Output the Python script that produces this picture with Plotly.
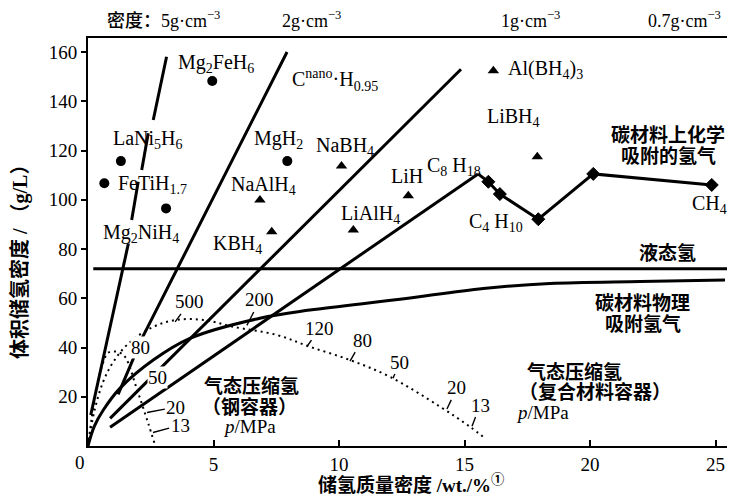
import plotly.graph_objects as go

# ---------------- data (wt.% , g/L) ----------------
# constant-density lines
rho5_x = [0.11, 1.61, None, 1.74, 2.0, None, 2.14, 2.4, None, 2.6, 3.13]
rho5_y = [12.6, 82.3, None, 91.8, 107.3, None, 112.1, 127.0, None, 132.4, 158.1]
rho2_x = [1.2, 2.14, 7.93]
rho2_y = [21.0, 43.5, 160.0]
rho1_x = [0.88, 14.86]
rho1_y = [11.2, 153.0]
rho07_x = [0.88, 15.54]
rho07_y = [7.6, 110.5]

# liquid hydrogen
liq_x = [0.21, 25.74]
liq_y = [72.0, 72.0]

# physisorption on carbon
phys_x = [0, 0.25, 0.61, 1.27, 2.6, 4.06, 6.85, 8.84, 12.43, 15.75, 18.4, 22.0, 25.38]
phys_y = [0, 8.0, 14.6, 23.4, 34.9, 43.7, 51.9, 55.2, 59.6, 64.0, 66.0, 66.8, 67.4]

# chemisorption on carbon (hydrocarbons)
chem_x = [15.54, 15.95, 16.41, 17.94, 20.13, 24.85]
chem_y = [110.5, 107.3, 102.3, 92.1, 110.5, 106.0]
chem_msize = [0, 10, 10, 10, 10, 10]

# compressed gas, steel vessel
steel_x = [0, 0.28, 0.55, 0.81, 1.14, 1.41, 1.61, 1.87, 2.14, 2.4, 2.67]
steel_y = [0, 20.0, 32.2, 37.9, 38.3, 37.0, 33.6, 25.5, 17.3, 9.2, 0.4]
# compressed gas, composite vessel
comp_x = [0, 0.25, 0.6, 1.0, 1.6, 2.6, 3.53, 4.6, 5.79, 7.52, 8.84, 10.44, 12.03, 14.02, 15.22, 15.82]
comp_y = [0, 14.0, 26.0, 34.0, 41.5, 48.4, 51.2, 51.2, 48.4, 45.1, 40.3, 34.9, 28.1, 16.0, 7.8, 3.1]

# hydrides (circles) and complex hydrides (triangles)
circle_names = ["Mg2FeH6", "LaNi5H6", "FeTiH1.7", "Mg2NiH4", "MgH2"]
circle_x = [4.95, 1.31, 0.65, 3.11, 7.94]
circle_y = [148.2, 115.7, 106.7, 96.5, 115.7]
tri_names = ["NaAlH4", "KBH4", "NaBH4", "LiAlH4", "LiH", "Al(BH4)3", "LiBH4"]
tri_x = [6.85, 7.32, 10.1, 10.57, 12.76, 16.15, 17.9]
tri_y = [99.9, 87.0, 113.7, 87.7, 101.6, 152.4, 117.5]

# tick labels
x_ticks = [5, 10, 15, 20, 25]
y_ticks = [20, 40, 60, 80, 100, 120, 140, 160]

# text labels
chem_labels = [
    ("Mg<sub>2</sub>FeH<sub>6</sub>", 5.10, 155.5),
    ("LaNi<sub>5</sub>H<sub>6</sub>", 2.39, 124.3),
    ("FeTiH<sub>1.7</sub>", 2.55, 106.0),
    ("Mg<sub>2</sub>NiH<sub>4</sub>", 2.11, 86.5),
    ("MgH<sub>2</sub>", 7.57, 124.3),
    ("NaAlH<sub>4</sub>", 7.01, 105.6),
    ("KBH<sub>4</sub>", 5.94, 82.0),
    ("NaBH<sub>4</sub>", 10.24, 121.8),
    ("LiAlH<sub>4</sub>", 11.27, 94.2),
    ("LiH", 12.71, 109.6),
    ("C<sub>8</sub> H<sub>18</sub>", 14.58, 113.7),
    ("Al(BH<sub>4</sub>)<sub>3</sub>", 18.21, 152.7),
    ("LiBH<sub>4</sub>", 16.97, 133.6),
    ("C<sub>4</sub> H<sub>10</sub>", 16.25, 90.6),
    ("CH<sub>4</sub>", 24.78, 97.9),
]
cjk_labels = [
    ("碳材料上化学", 23.11, 127.0),
    ("吸附的氢气", 23.11, 118.4),
    ("液态氢", 23.07, 78.8),
    ("碳材料物理", 22.11, 58.7),
    ("吸附氢气", 22.11, 50.2),
    ("气态压缩氢", 6.53, 25.0),
    ("（钢容器）", 6.45, 16.5),
    ("气态压缩氢", 19.4, 30.7),
    ("（复合材料容器）", 20.2, 22.5),
]
unit_labels = [("<i>p</i>/MPa", 6.45, 8.1), ("<i>p</i>/MPa", 18.09, 13.8)]
# pressure labels on composite curve: text, label x, label y, tip x, tip y
comp_p = [("500", 4.06, 58.5, 3.47, 50.4), ("200", 6.85, 59.3, 6.33, 49.0),
          ("120", 9.24, 47.9, 8.73, 40.5), ("80", 10.92, 43.0, 10.44, 34.5),
          ("50", 12.43, 34.1, 12.15, 27.5), ("20", 14.7, 23.6, 14.3, 15.0),
          ("13", 15.62, 16.6, 15.3, 8.0)]
steel_p = [("20", 3.5, 15.8, 2.35, 13.6), ("13", 3.67, 8.5, 2.59, 5.5)]
steel_p_plain = [("80", 2.11, 40.2), ("50", 2.75, 28.0)]
top_labels = [("密度：5g·cm<sup>−3</sup>", 163), ("2g·cm<sup>−3</sup>", 311),
              ("1g·cm<sup>−3</sup>", 530), ("0.7g·cm<sup>−3</sup>", 684)]

# ---------------- figure ----------------
# The page body adds an 8px offset, so the figure is 8px smaller and the
# plot area is placed so that it lands at (88..734, 38..446) on screen.
OFF = 8
W, H = 735 - OFF, 494 - OFF
PL, PR, PT, PB = 88, 734, 38, 446          # plot-area edges on screen
ML, MT = PL - OFF, PT - OFF
MR, MB = W - (PR - OFF), H - (PB - OFF)
PW, PH = PR - PL, PB - PT
XR = [0, 25.737]
YR = [0, 165.69]
SERIF = "Liberation Serif, Times New Roman, serif"
CJK = "Noto Sans CJK SC, sans-serif"
MIX = "Liberation Serif, Noto Sans CJK SC, serif"
BLACK = "#000000"


def px_x(px):
    return (px - PL) / PW


def px_y(py):
    return (PB - py) / PH


fig = go.Figure()
line_w = 3


def add_line(x, y, width=line_w, dash="solid", shape="linear"):
    fig.add_trace(go.Scatter(x=x, y=y, mode="lines", hoverinfo="skip",
                             line=dict(color=BLACK, width=width, dash=dash, shape=shape),
                             showlegend=False))


add_line(rho5_x, rho5_y)
add_line(rho2_x, rho2_y)
add_line(rho1_x, rho1_y)
add_line(rho07_x, rho07_y)
add_line(liq_x, liq_y)
add_line(phys_x, phys_y, shape="spline")
add_line(steel_x, steel_y, width=2, dash="2px,4px", shape="spline")
add_line(comp_x, comp_y, width=2, dash="2px,4px", shape="spline")

fig.add_trace(go.Scatter(x=chem_x, y=chem_y, mode="lines+markers", showlegend=False,
                         line=dict(color=BLACK, width=line_w),
                         marker=dict(symbol="diamond", size=chem_msize, color=BLACK,
                                     opacity=1, line=dict(color=BLACK, width=1))))
fig.add_trace(go.Scatter(x=circle_x, y=circle_y, mode="markers", text=circle_names,
                         showlegend=False,
                         marker=dict(symbol="circle", size=10, color=BLACK)))
fig.add_trace(go.Scatter(x=tri_x, y=tri_y, mode="markers", text=tri_names,
                         showlegend=False,
                         marker=dict(symbol="triangle-up", size=10, color=BLACK)))

ann = []
for t, x, y in chem_labels:
    ann.append(dict(text=t, x=x, y=y, xref="x", yref="y", showarrow=False,
                    font=dict(family=SERIF, size=20, color=BLACK)))
ann.append(dict(text="C<sup>nano</sup>·H<sub>0.95</sub>", x=8.05, y=148.6, xref="x", yref="y",
                xanchor="left", showarrow=False, font=dict(family=SERIF, size=20, color=BLACK)))
for t, x, y in cjk_labels:
    ann.append(dict(text=t, x=x, y=y, xref="x", yref="y", showarrow=False,
                    font=dict(family=CJK, size=19, color=BLACK, weight=600)))
for t, x, y in unit_labels:
    ann.append(dict(text=t, x=x, y=y, xref="x", yref="y", showarrow=False,
                    font=dict(family=SERIF, size=19, color=BLACK)))
for t, lx, ly, tx, ty in comp_p + steel_p:
    ann.append(dict(text=t, x=tx, y=ty, ax=lx, ay=ly, xref="x", yref="y", axref="x", ayref="y",
                    showarrow=True, arrowhead=0, arrowwidth=1.4, arrowcolor=BLACK,
                    standoff=0, font=dict(family=SERIF, size=19, color=BLACK)))
for t, x, y in steel_p_plain:
    ann.append(dict(text=t, x=x, y=y, xref="x", yref="y", showarrow=False, bgcolor="white",
                    borderpad=0, font=dict(family=SERIF, size=19, color=BLACK)))
for t, px in top_labels:
    ann.append(dict(text=t, x=px_x(px), y=px_y(20), xref="paper", yref="paper",
                    xanchor="center", yanchor="middle", showarrow=False,
                    font=dict(family=MIX, size=18, color=BLACK, weight=500)))
# origin label
ann.append(dict(text="0", x=px_x(80), y=px_y(462), xref="paper", yref="paper",
                xanchor="center", yanchor="middle", showarrow=False,
                font=dict(family=SERIF, size=19, color=BLACK)))
# axis titles
ann.append(dict(text="体积储氢密度 / （g/L）", x=px_x(20), y=px_y(257),
                xref="paper", yref="paper", xanchor="center", yanchor="middle",
                textangle=-90, showarrow=False,
                font=dict(family=MIX, size=20, color=BLACK, weight=600)))
ann.append(dict(text="储氢质量密度 /wt./%<sup>①</sup>", x=px_x(411), y=px_y(484),
                xref="paper", yref="paper", xanchor="center", yanchor="middle", showarrow=False,
                font=dict(family=MIX, size=19, color=BLACK, weight=600)))

fig.update_layout(
    width=W, height=H, margin=dict(l=ML, r=MR, t=MT, b=MB, pad=0),
    paper_bgcolor="white", plot_bgcolor="white", annotations=ann,
    xaxis=dict(range=XR, showgrid=False, zeroline=False, showline=True, linecolor=BLACK,
               linewidth=2, mirror=True, ticks="inside", ticklen=6, tickwidth=1.5,
               tickcolor=BLACK, tickvals=x_ticks, ticktext=[str(v) for v in x_ticks],
               automargin=False, tickfont=dict(family=SERIF, size=19, color=BLACK)),
    yaxis=dict(range=YR, showgrid=False, zeroline=False, showline=True, linecolor=BLACK,
               linewidth=2, ticks="outside", ticklen=5, tickwidth=1.5, tickcolor=BLACK,
               tickvals=y_ticks, ticktext=[str(v) for v in y_ticks],
               automargin=False, tickfont=dict(family=SERIF, size=19, color=BLACK)),
)

fig.write_html("out.html")
